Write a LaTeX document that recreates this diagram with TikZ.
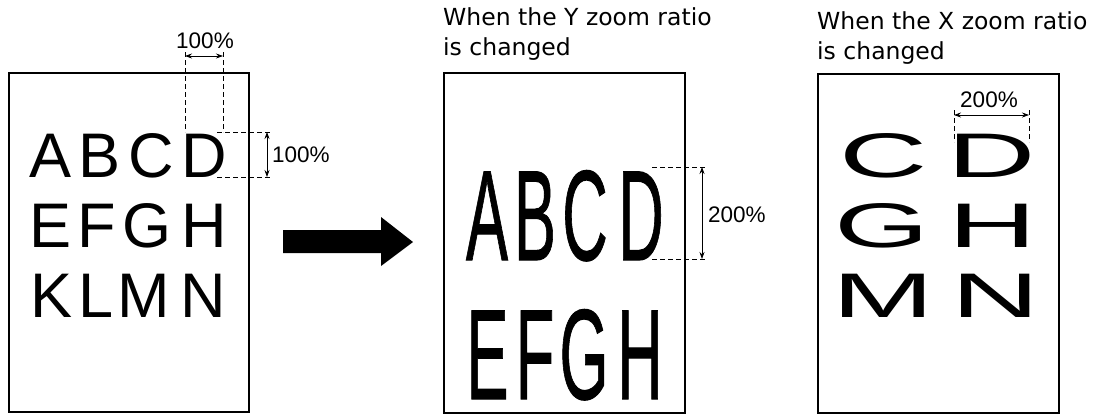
\documentclass[tikz,border=0pt]{standalone}
\usepackage{fontspec}
\setmainfont{Liberation Sans}
\newfontfamily\titlefont{DejaVu Sans}
\newfontfamily\heavyfont[FakeBold=0.9]{Liberation Sans}
\usetikzlibrary{arrows.meta}
\tikzset{
  page/.style={draw, line width=1.6pt, inner sep=0pt, anchor=north west},
  big/.style={font=\fontsize{63}{63}\selectfont, inner sep=0pt, anchor=base},
  tall/.style={font=\heavyfont\fontsize{63}{63}\selectfont, inner sep=0pt, anchor=base},
  dimline/.style={dash pattern=on 5pt off 3pt, line width=0.8pt},
  dimarrow/.style={{Stealth[length=7pt,width=5pt]}-{Stealth[length=7pt,width=5pt]}, line width=0.7pt},
  pct/.style={font=\fontsize{22.5}{22.5}\selectfont, inner sep=0pt},
  titletext/.style={font=\titlefont\fontsize{23.5}{30}\selectfont, inner sep=0pt, anchor=base west},
  bigarrow/.style={fill=black, draw=none}
}
\begin{document}
\begin{tikzpicture}[x=1pt,y=-1pt]
\useasboundingbox (0,0) rectangle (1106,413);
% pages
\node[page, minimum width=240pt, minimum height=339pt] (p1) at (8,72) {};
\node[page, minimum width=241pt, minimum height=340pt] (p2) at (443,72) {};
\node[page, minimum width=241pt, minimum height=339pt] (p3) at (817,73) {};
% titles
\node[titletext] (t2a) at (443,25) {When the Y zoom ratio};
\node[titletext] (t2b) at (443,55) {is changed};
\node[titletext] (t3a) at (817,29) {When the X zoom ratio};
\node[titletext] (t3b) at (817,59) {is changed};
% box 1 letters
\node[big] (A1) at (50.5,177) {A};
\node[big] (B1) at (100,177) {B};
\node[big] (C1) at (151.5,177) {C};
\node[big] (D1) at (204,177) {D};
\node[big] (E1) at (51,247) {E};
\node[big] (F1) at (97,247) {F};
\node[big] (G1) at (147,247) {G};
\node[big] (H1) at (204,247) {H};
\node[big] (K1) at (52,317) {K};
\node[big] (L1) at (96,317) {L};
\node[big] (M1) at (144,317) {M};
\node[big] (N1) at (203,317) {N};
% box 2 letters
\node[tall] (A2) at (487,260) {\scalebox{1}[2.04]{A}};
\node[tall] (B2) at (535,260) {\scalebox{1}[2.04]{B}};
\node[tall] (C2) at (585,260) {\scalebox{1}[2.04]{C}};
\node[tall] (D2) at (641,260) {\scalebox{1}[2.04]{D}};
\node[tall] (E2) at (487.5,399) {\scalebox{1}[2.04]{E}};
\node[tall] (F2) at (535,399) {\scalebox{1}[2.04]{F}};
\node[tall] (G2) at (584,399) {\scalebox{1}[2.04]{G}};
\node[tall] (H2) at (640,399) {\scalebox{1}[2.04]{H}};
% box 3 letters
\node[big] (C3) at (883.5,177) {\scalebox{1.94}[1]{C}};
\node[big] (D3) at (991.5,177) {\scalebox{1.94}[1]{D}};
\node[big] (G3) at (882.5,247) {\scalebox{1.94}[1]{G}};
\node[big] (H3) at (993,247) {\scalebox{1.94}[1]{H}};
\node[big] (M3) at (883.5,317) {\scalebox{1.94}[1]{M}};
\node[big] (N3) at (996,317) {\scalebox{1.94}[1]{N}};
% big arrow
\fill[bigarrow] (283,230) -- (381,230) -- (381,217) -- (413,242) -- (381,266) -- (381,253) -- (283,253) -- cycle;
% box 1 dimensions
\coordinate (v1t) at (185,52); \coordinate (v1b) at (185,132);
\coordinate (v2t) at (223,52); \coordinate (v2b) at (223,132);
\draw[dimline] (v1t) -- (v1b);
\draw[dimline] (v2t) -- (v2b);
\coordinate (ha1) at (185,56); \coordinate (ha2) at (223,56);
\draw[dimarrow] (ha1) -- (ha2);
\node[pct, anchor=base] (l1) at (205,48) {100\%};
\coordinate (h1l) at (217,132); \coordinate (h1r) at (270,132);
\coordinate (h2l) at (217,177); \coordinate (h2r) at (270,177);
\draw[dimline] (h1l) -- (h1r);
\draw[dimline] (h2l) -- (h2r);
\coordinate (va1) at (267,132); \coordinate (va2) at (267,177);
\draw[dimarrow] (va1) -- (va2);
\node[pct, anchor=west] (l2) at (272,155) {100\%};
% box 2 dimensions
\coordinate (h3l) at (652,167); \coordinate (h3r) at (707,167);
\coordinate (h4l) at (652,259); \coordinate (h4r) at (707,259);
\draw[dimline] (h3l) -- (h3r);
\draw[dimline] (h4l) -- (h4r);
\coordinate (va3) at (702,167); \coordinate (va4) at (702,259);
\draw[dimarrow] (va3) -- (va4);
\node[pct, anchor=west] (l3) at (708,215) {200\%};
% box 3 dimensions
\coordinate (v3t) at (954,110); \coordinate (v3b) at (954,142);
\coordinate (v4t) at (1029,110); \coordinate (v4b) at (1029,142);
\draw[dimline] (v3t) -- (v3b);
\draw[dimline] (v4t) -- (v4b);
\coordinate (ha3) at (954,115); \coordinate (ha4) at (1029,115);
\draw[dimarrow] (ha3) -- (ha4);
\node[pct, anchor=base] (l4) at (989,107) {200\%};
\end{tikzpicture}
\end{document}
